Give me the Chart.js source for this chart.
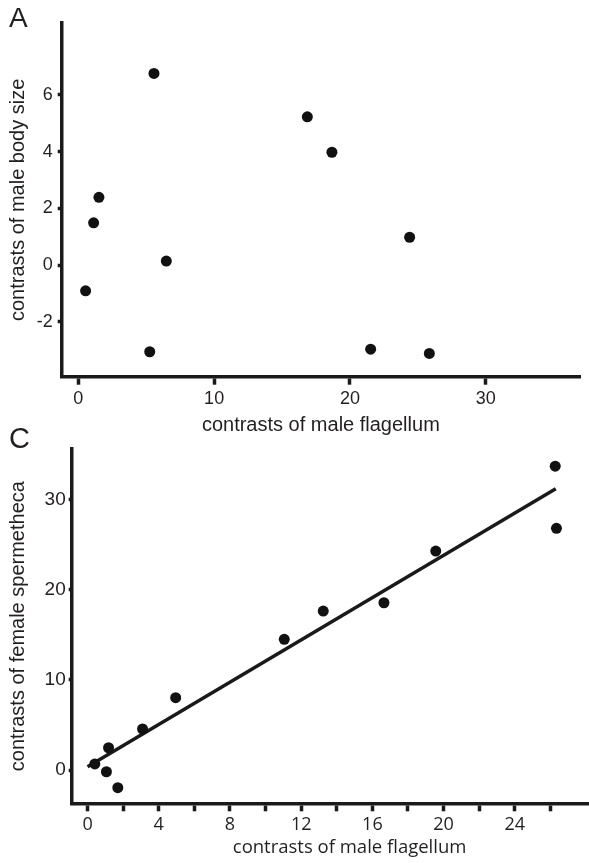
<!DOCTYPE html>
<html>
<head>
<meta charset="utf-8">
<script src="https://cdn.jsdelivr.net/npm/chart.js"></script>
<style>
  html, body { margin: 0; padding: 0; background: #fff; overflow: hidden; width: 589px; height: 863px; }
  .panel { position: absolute; left: 0; }
  .letter { position: absolute; font-family: "Liberation Sans", Arial, sans-serif; color: #231f20; line-height: 1; }
</style>
</head>
<body>
<div class="panel" style="top:0;width:589px;height:450px"><canvas id="chartA" width="589" height="450"></canvas></div>
<div class="panel" style="top:420px;width:633px;height:443px"><canvas id="chartC" width="633" height="443"></canvas></div>
<div class="letter" style="left:9px;top:4px;font-size:28px">A</div>
<div class="letter" style="left:9px;top:424px;font-size:29px">C</div>

<script>
// Panel A: male flagellum vs male body size (contrasts)
var flagellumA = [5.57, 1.52, 1.13, 6.48, 0.54, 5.26, 16.86, 18.67, 24.39, 21.52, 25.84];
var bodySizeA  = [6.76, 2.39, 1.49, 0.14, -0.91, -3.06, 5.23, 3.98, 0.98, -2.97, -3.12];
var xTicksA = [0, 10, 20, 30];
var yTicksA = [-2, 0, 2, 4, 6];

// Panel C: male flagellum vs female spermatheca (contrasts)
var flagellumC    = [0.41, 1.06, 1.18, 1.70, 3.09, 4.95, 11.05, 13.24, 16.65, 19.56, 26.27, 26.34];
var spermathecaC  = [0.67, -0.19, 2.47, -1.96, 4.55, 8.02, 14.49, 17.63, 18.55, 24.28, 33.70, 26.80];
var fitX = [0, 26.3];
var fitY = [0.37, 31.2];
var xTicksC = [0, 2, 4, 6, 8, 10, 12, 14, 16, 18, 20, 22, 24, 26];
var yTicksC = [0, 10, 20, 30];

var ink = '#1a1a1a';
var textColor = '#231f20';
var arial = "'Liberation Sans', Arial, sans-serif";
var myriad = "'Open Sans', sans-serif";

function toPoints(xs, ys) {
  return xs.map(function (x, i) { return { x: x, y: ys[i] }; });
}

function setTicks(values) {
  return function (scale) {
    scale.ticks = values.map(function (v) { return { value: v }; });
  };
}

function gridStyle(len) {
  return { drawOnChartArea: false, drawTicks: true, tickLength: len, tickWidth: 3.5, tickColor: ink };
}

// Chart A
new Chart(document.getElementById('chartA').getContext('2d'), {
  type: 'scatter',
  data: {
    datasets: [{
      data: toPoints(flagellumA, bodySizeA),
      backgroundColor: '#111',
      borderWidth: 0,
      pointRadius: 5.5
    }]
  },
  options: {
    responsive: false,
    animation: false,
    layout: { padding: { top: 23, right: 9, bottom: 13, left: 0 } },
    plugins: { legend: { display: false }, tooltip: { enabled: false } },
    scales: {
      x: {
        type: 'linear', min: -1.22, max: 36.93,
        afterBuildTicks: setTicks(xTicksA),
        afterFit: function (s) { s.height = 60.3; },
        border: { display: true, color: ink, width: 3.5 },
        grid: gridStyle(8),
        ticks: { padding: 4, color: textColor, maxRotation: 0, autoSkip: false, font: { family: arial, size: 18 } },
        title: { display: true, text: 'contrasts of male flagellum', color: textColor,
                 font: { family: arial, size: 20 }, padding: { top: 0, bottom: 0 } }
      },
      y: {
        type: 'linear', min: -3.94, max: 8.54,
        afterBuildTicks: setTicks(yTicksA),
        afterFit: function (s) { s.width = 61.7; },
        border: { display: true, color: ink, width: 3.5 },
        grid: gridStyle(4),
        ticks: { padding: 5, color: textColor, autoSkip: false, font: { family: arial, size: 18 } },
        title: { display: true, text: 'contrasts of male body size', color: textColor,
                 font: { family: arial, size: 20 }, padding: { top: 6.5, bottom: 0 } }
      }
    }
  }
});

// Chart C
new Chart(document.getElementById('chartC').getContext('2d'), {
  type: 'scatter',
  data: {
    datasets: [{
      data: toPoints(flagellumC, spermathecaC),
      backgroundColor: '#111',
      borderWidth: 0,
      pointRadius: 5.5
    }, {
      data: toPoints(fitX, fitY),
      showLine: true,
      borderColor: ink,
      borderWidth: 3.5,
      pointRadius: 0
    }]
  },
  options: {
    responsive: false,
    animation: false,
    layout: { padding: { top: 29, right: 0, bottom: 4.2, left: 0 } },
    plugins: { legend: { display: false }, tooltip: { enabled: false } },
    scales: {
      x: {
        type: 'linear', min: -0.89, max: 30.33,
        afterBuildTicks: setTicks(xTicksC),
        afterFit: function (s) { s.height = 55.5; },
        border: { display: true, color: ink, width: 3.5 },
        grid: gridStyle(8),
        ticks: {
          padding: 3, color: textColor, maxRotation: 0, autoSkip: false,
          font: { family: myriad, size: 18 },
          callback: function (v) { return v % 4 === 0 ? String(v) : ''; }
        },
        title: { display: true, text: 'contrasts of male flagellum', color: textColor,
                 font: { family: myriad, size: 18.5 }, padding: { top: 0, bottom: 0 } }
      },
      y: {
        type: 'linear', min: -3.69, max: 35.6,
        afterBuildTicks: setTicks(yTicksC),
        afterFit: function (s) { s.width = 71.7; },
        border: { display: true, color: ink, width: 3.5 },
        grid: gridStyle(3),
        ticks: { padding: 3, color: textColor, autoSkip: false, font: { family: arial, size: 19 } },
        title: { display: true, text: 'contrasts of female spermetheca', color: textColor,
                 font: { family: arial, size: 20 }, padding: { top: 6.5, bottom: 0 } }
      }
    }
  }
});
</script>
</body>
</html>
